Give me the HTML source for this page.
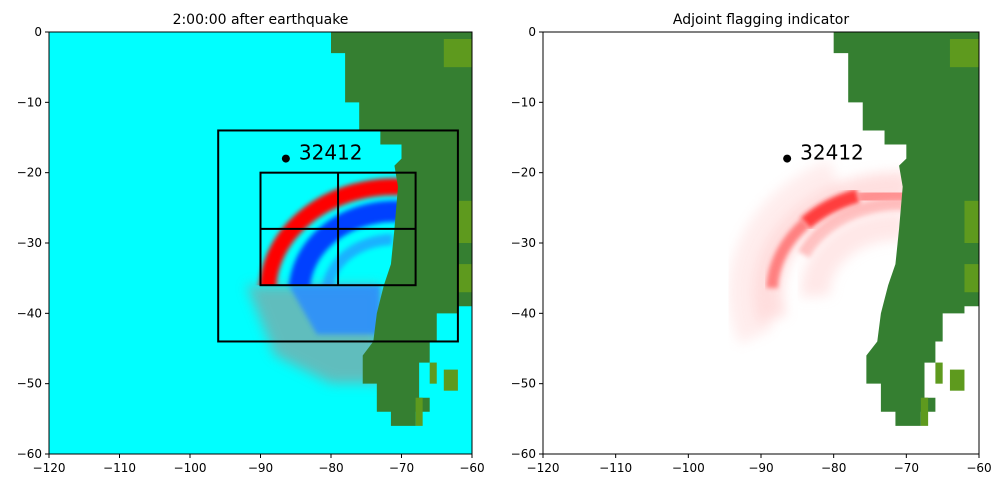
<!DOCTYPE html>
<html><head><meta charset="utf-8"><style>
body{margin:0;background:#fff;font-family:"Liberation Sans","DejaVu Sans",sans-serif}
svg text{font-family:"DejaVu Sans","Liberation Sans",sans-serif}
</style></head><body>
<svg id="fig" width="1003" height="488" viewBox="0 0 1003 488" xmlns="http://www.w3.org/2000/svg">
<defs>
<filter id="blur" x="-20%" y="-20%" width="140%" height="140%"><feGaussianBlur stdDeviation="2.5"/></filter>
<filter id="blur2" x="-20%" y="-20%" width="140%" height="140%"><feGaussianBlur stdDeviation="6"/></filter>
</defs>
</svg>
<script>
const xTicks=[-120,-110,-100,-90,-80,-70,-60];
const yTicks=[0,-10,-20,-30,-40,-50,-60];
const titles=["2:00:00 after earthquake","Adjoint flagging indicator"];
const station={lon:-86.4,lat:-18,label:"32412"};
const outerBox=[-96,-62,-44,-14];
const innerBox=[-90,-68,-36,-20];
const innerDiv={x:-79,y:-28};
const landWest=[[-80,0],[-80,-3],[-78,-3],[-78,-10],[-76,-10],[-76,-14],[-73,-14],[-73,-16],[-70,-16],[-70,-18],[-71,-19],[-70.5,-22],[-71,-28],[-71.5,-33],[-72.5,-36],[-73,-38],[-73.5,-40],[-74,-44],[-75.5,-46],[-75.5,-50],[-73.5,-50],[-73.5,-54],[-71.5,-54],[-71.5,-56],[-68,-56]];
const landEast=[[-68,-54],[-66,-54],[-66,-52],[-67.5,-52],[-67.5,-47],[-66,-47],[-66,-44],[-65,-44],[-65,-40],[-62,-40],[-62,-39],[-60,-39],[-60,0]];
const patches=[[-64,-60,-5,-1],[-62,-60,-30,-24],[-62,-60,-37,-33],[-68,-67,-56,-52],[-66,-65,-50,-47],[-64,-62,-51,-48]];
const waveCenter=[-71,-37];
const redR=[18,15], blueR=[13.5,11.5];
const greyBlob=[[-92,-36],[-73,-36],[-73,-50],[-80,-50],[-88,-46]];
const blueBlob=[[-86,-36],[-73,-36],[-73,-43],[-82,-43]];

const NS="http://www.w3.org/2000/svg";
const svg=document.getElementById('fig');
function el(t,a,p){const e=document.createElementNS(NS,t);for(const k in a)e.setAttribute(k,a[k]);(p||svg).appendChild(e);return e;}
const axesDefs=[{x0:49,x1:472,y0:32,y1:454,bg:"#00ffff",mode:0},{x0:543,x1:979,y0:32,y1:454,bg:"#ffffff",mode:1}];
axesDefs.forEach((A,i)=>{
 const sx=v=>A.x0+(v+120)/60*(A.x1-A.x0);
 const sy=v=>A.y0+(-v)/60*(A.y1-A.y0);
 const g=el('g',{});
 
 
 const defs=el('defs',{},g);
 const cp=el('clipPath',{id:'clip'+i},defs);
 el('rect',{x:A.x0,y:A.y0,width:A.x1-A.x0,height:A.y1-A.y0},cp);
 const cpu=el('clipPath',{id:'clipu'+i},defs);
 el('rect',{x:A.x0,y:A.y0,width:A.x1-A.x0,height:sy(-36)-A.y0},cpu);
 const bg=el('rect',{x:A.x0,y:A.y0,width:A.x1-A.x0,height:A.y1-A.y0,fill:A.bg},g);
 
 const inner=el('g',{'clip-path':'url(#clip'+i+')'},g);
 const cx=sx(waveCenter[0]),cy=sy(waveCenter[1]);
 const px=v=>v/60*(A.x1-A.x0), py=v=>v/60*(A.y1-A.y0);
 function arc(R,a0,a1,d){const a=px(R[0]+(d||0)),b=py(R[1]+(d||0));const p0=[cx+a*Math.cos(a0),cy-b*Math.sin(a0)],p1=[cx+a*Math.cos(a1),cy-b*Math.sin(a1)];return `M${p0[0]},${p0[1]} A${a},${b} 0 0 0 ${p1[0]},${p1[1]}`;}
 const poly=p=>p.map(q=>sx(q[0])+','+sy(q[1])).join(' ');
 const wave=el('g',{},inner);
 
 if(A.mode==0){
  el('polygon',{points:poly(greyBlob),fill:'#80a8a8',opacity:0.75,filter:'url(#blur2)'},wave);
  el('polygon',{points:poly(blueBlob),fill:'#2a8cff',opacity:0.85,filter:'url(#blur)'},wave);
  const up=el('g',{'clip-path':'url(#clipu'+i+')'},wave);
  el('path',{d:arc(redR,1.45,3.3,0),stroke:'#ff0000',"stroke-width":px(2.4),fill:'none',filter:'url(#blur)'},up);
  el('path',{d:arc(blueR,1.4,3.3,0),stroke:'#0040ff',"stroke-width":px(3),fill:'none',filter:'url(#blur)'},up);
  el('path',{d:arc(blueR,1.6,3.3,-4),stroke:'#2a80ff',"stroke-width":px(1.6),fill:'none',opacity:0.6,filter:'url(#blur)'},up);
 } else {
  el('path',{d:arc(redR,1.5,3.4,0),stroke:'#ffc0c0',"stroke-width":px(4),fill:'none',opacity:0.5,filter:'url(#blur2)'},wave);
  el('path',{d:arc(redR,2.0,3.5,3),stroke:'#ffd8d8',"stroke-width":px(5),fill:'none',opacity:0.45,filter:'url(#blur2)'},wave);
  el('path',{d:arc(redR,1.9,2.4,-0.5),stroke:'#ff2020',"stroke-width":px(2),fill:'none',opacity:0.85,filter:'url(#blur)'},wave);
  el('path',{d:arc(redR,1.45,1.9,-1),stroke:'#ff7070',"stroke-width":px(2),fill:'none',opacity:0.7,filter:'url(#blur)'},wave);
  el('path',{d:arc(redR,2.4,3.1,-0.5),stroke:'#ff6060',"stroke-width":px(1.6),fill:'none',opacity:0.75,filter:'url(#blur)'},wave);
  el('path',{d:arc(blueR,1.35,2.7,1),stroke:'#ff9090',"stroke-width":px(1.8),fill:'none',opacity:0.55,filter:'url(#blur)'},wave);
  el('path',{d:arc(blueR,1.5,3.2,-2),stroke:'#ffd0d0',"stroke-width":px(4),fill:'none',opacity:0.5,filter:'url(#blur2)'},wave);
 }
 const land=el('polygon',{points:poly(landWest.concat(landEast)),fill:'#357f31'},inner);
 
 patches.forEach(p=>{const r=el('rect',{x:sx(p[0]),y:sy(p[3]),width:sx(p[1])-sx(p[0]),height:sy(p[2])-sy(p[3]),fill:'#5e9a1e'},inner);
  });
 if(A.mode==0){
  const bx=el('g',{fill:'none',stroke:'#000','stroke-width':2},inner);
  
  [outerBox,innerBox].forEach(b=>el('rect',{x:sx(b[0]),y:sy(b[3]),width:sx(b[1])-sx(b[0]),height:sy(b[2])-sy(b[3])},bx));
  el('line',{x1:sx(innerDiv.x),x2:sx(innerDiv.x),y1:sy(innerBox[3]),y2:sy(innerBox[2])},bx);
  el('line',{x1:sx(innerBox[0]),x2:sx(innerBox[1]),y1:sy(innerDiv.y),y2:sy(innerDiv.y)},bx);
 }
 const st=el('circle',{cx:sx(station.lon),cy:sy(station.lat),r:4,fill:'#000'},g);
 
 const sl=el('text',{x:sx(station.lon)+13,y:sy(station.lat)+1,'font-size':20,fill:'#000'},g);
 sl.textContent=station.label;
 const fr=el('rect',{x:A.x0,y:A.y0,width:A.x1-A.x0,height:A.y1-A.y0,fill:'none',stroke:'#000','stroke-width':1},g);
 
 xTicks.forEach(v=>{const x=sx(v);el('line',{x1:x,x2:x,y1:A.y1,y2:A.y1+4,stroke:'#000'},g);
  const t=el('text',{x:x,y:A.y1+18,'font-size':12,'text-anchor':'middle'},g);t.textContent=v==0?'0':'\u2212'+Math.abs(v);
  });
 yTicks.forEach(v=>{const y=sy(v);el('line',{x1:A.x0-4,x2:A.x0,y1:y,y2:y,stroke:'#000'},g);
  const t=el('text',{x:A.x0-7,y:y+4,'font-size':12,'text-anchor':'end'},g);t.textContent=v==0?'0':'\u2212'+Math.abs(v);
  });
 const tt=el('text',{x:(A.x0+A.x1)/2,y:A.y0-8,'font-size':14,'text-anchor':'middle'},g);
 tt.textContent=titles[i];
});
</script>
</body></html>
